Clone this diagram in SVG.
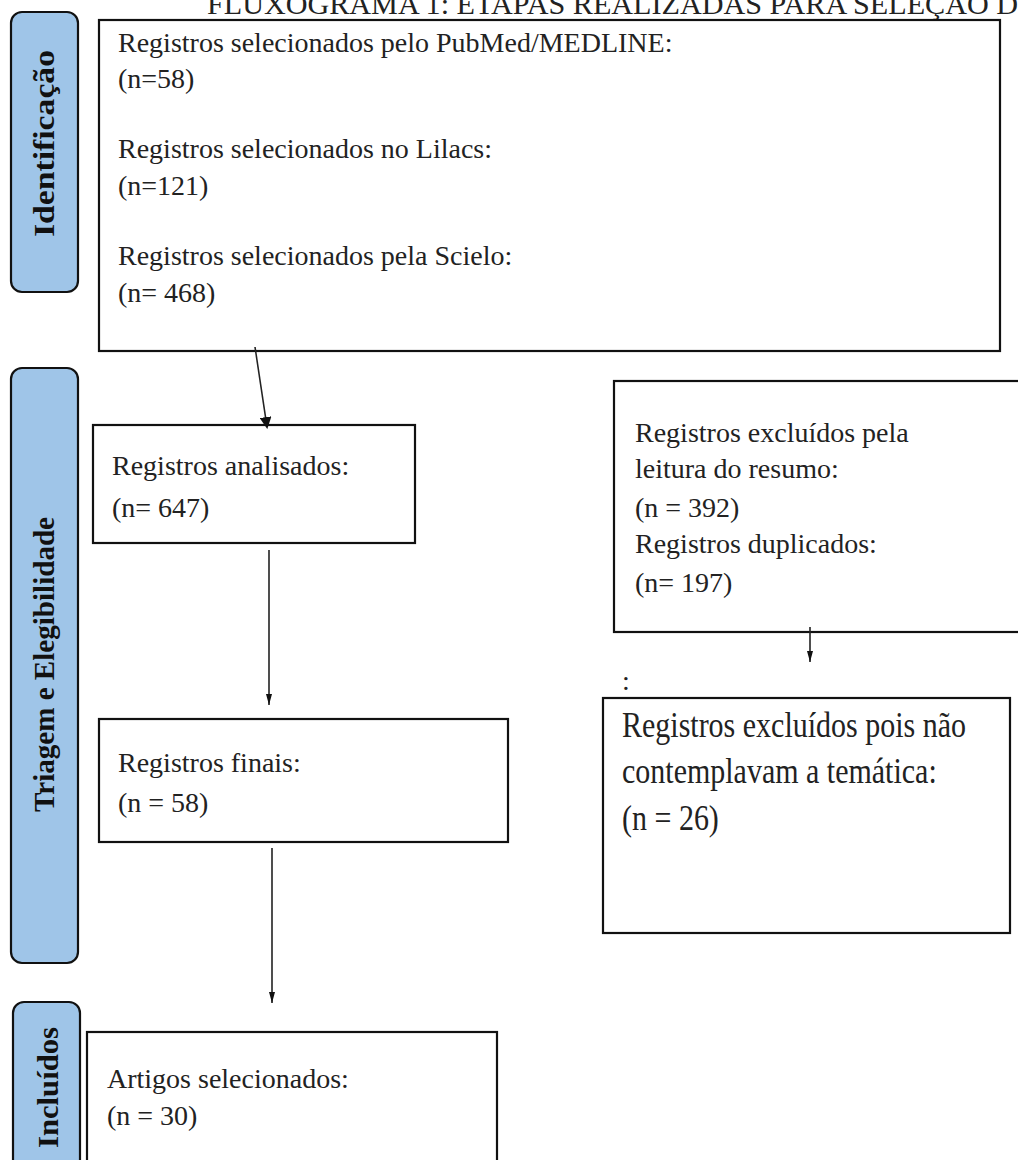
<svg xmlns="http://www.w3.org/2000/svg" width="1018" height="1160" viewBox="0 0 1018 1160">
<defs>
<style>
.t{font-family:"Liberation Serif","Times New Roman",serif;font-size:28px;fill:#222}
.big{font-family:"Liberation Serif","Times New Roman",serif;font-size:30px;fill:#222}
.lab{font-family:"Liberation Serif","Times New Roman",serif;font-size:30px;font-weight:bold;fill:#111}
.box{fill:#fff;stroke:#111;stroke-width:2.2}
.pill{fill:#9fc5e8;stroke:#111;stroke-width:2.2}
.ln{stroke:#222;stroke-width:1.6;fill:none}
</style>
<marker id="ah" markerWidth="12" markerHeight="12" refX="10" refY="6" orient="auto" markerUnits="userSpaceOnUse">
<path d="M0,0 L12,6 L0,12 Z" fill="#111"/>
</marker>
<marker id="as" markerWidth="12" markerHeight="8" refX="11" refY="3.5" orient="auto" markerUnits="userSpaceOnUse">
<path d="M0,0.5 L11,3.5 L0,6.5 Z" fill="#111"/>
</marker>
</defs>
<rect width="1018" height="1160" fill="#fff"/>
<text class="t" x="207" y="14" style="font-size:30px" textLength="811" lengthAdjust="spacingAndGlyphs">FLUXOGRAMA 1: ETAPAS REALIZADAS PARA SELEÇÃO D</text>

<g id="stage-identificacao">
<rect class="pill" x="11" y="12" width="67" height="280" rx="11"/>
<text class="lab" transform="translate(54,143.5) rotate(-90)" text-anchor="middle" textLength="187" lengthAdjust="spacingAndGlyphs">Identificação</text>
</g>
<g id="stage-triagem">
<rect class="pill" x="11" y="368" width="67" height="595" rx="11"/>
<text class="lab" transform="translate(54,664.5) rotate(-90)" text-anchor="middle" textLength="295" lengthAdjust="spacingAndGlyphs">Triagem e Elegibilidade</text>
</g>
<g id="stage-incluidos">
<rect class="pill" x="13" y="1002" width="67" height="200" rx="11"/>
<text class="lab" transform="translate(58,1087.5) rotate(-90)" text-anchor="middle" textLength="121" lengthAdjust="spacingAndGlyphs">Incluídos</text>
</g>

<g id="node-identificados">
<rect class="box" x="99" y="20" width="901" height="331"/>
<text class="t" x="118" y="52">Registros selecionados pelo PubMed/MEDLINE:</text>
<text class="t" x="118" y="88">(n=58)</text>
<text class="t" x="118" y="158">Registros selecionados no Lilacs:</text>
<text class="t" x="118" y="195">(n=121)</text>
<text class="t" x="118" y="265"> Registros selecionados pela Scielo:</text>
<text class="t" x="118" y="302">(n= 468)</text>
</g>

<g id="node-analisados">
<rect class="box" x="93" y="425" width="322" height="118"/>
<text class="t" x="112" y="475">Registros analisados:</text>
<text class="t" x="112" y="517">(n= 647)</text>
</g>

<g id="node-excluidos1">
<rect class="box" x="614" y="381" width="420" height="251"/>
<text class="t" x="635" y="442">Registros excluídos pela</text>
<text class="t" x="635" y="478">leitura do resumo:</text>
<text class="t" x="635" y="517">(n = 392)</text>
<text class="t" x="635" y="553">Registros duplicados:</text>
<text class="t" x="635" y="592">(n= 197)</text>
</g>

<g id="node-excluidos2">
<text class="t" x="622" y="690">:</text>
<rect class="box" x="603" y="698" width="407" height="235"/>
<text class="big" transform="translate(622,737) scale(1,1.18)">Registros excluídos pois não</text>
<text class="big" transform="translate(622,783) scale(1,1.18)">contemplavam a temática:</text>
<text class="big" transform="translate(622,830) scale(1,1.18)">(n = 26)</text>
</g>

<g id="node-finais">
<rect class="box" x="99" y="719" width="409" height="123"/>
<text class="t" x="118" y="772">Registros finais:</text>
<text class="t" x="118" y="812">(n = 58)</text>
</g>

<g id="node-artigos">
<rect class="box" x="87" y="1032" width="410" height="140"/>
<text class="t" x="107" y="1088">Artigos selecionados:</text>
<text class="t" x="107" y="1125">(n = 30)</text>
</g>

<g id="connectors">
<line class="ln" x1="255" y1="347" x2="267" y2="427" marker-end="url(#ah)"/>
<line class="ln" x1="269" y1="550" x2="269" y2="705" marker-end="url(#as)"/>
<line class="ln" x1="272" y1="848" x2="272" y2="1003" marker-end="url(#as)"/>
<line class="ln" x1="810" y1="627" x2="810" y2="662" stroke-width="2" marker-end="url(#as)"/>
</g>
</svg>
